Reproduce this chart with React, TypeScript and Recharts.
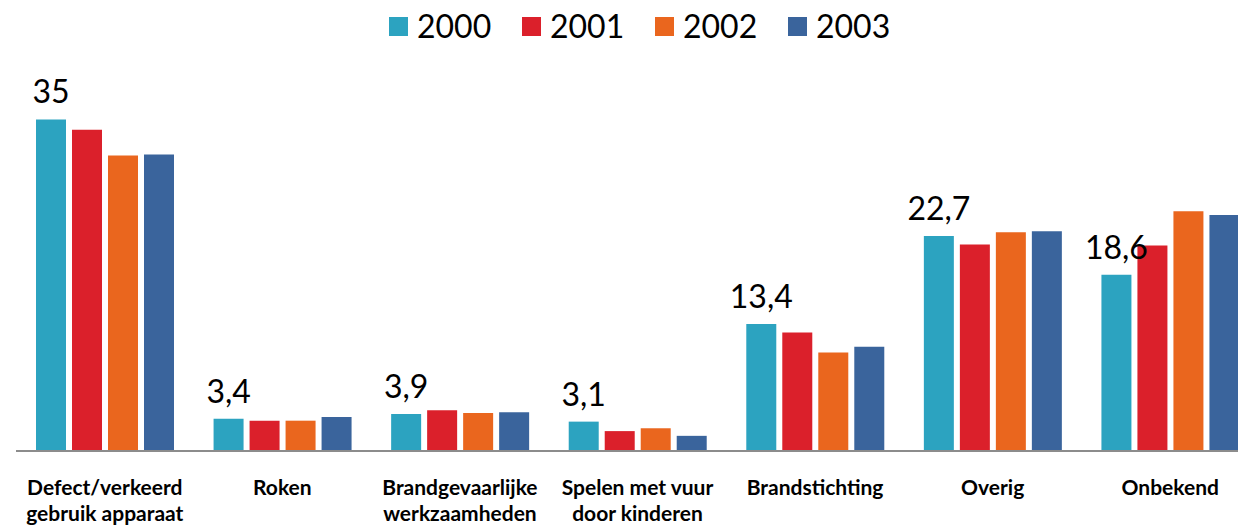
import React from 'react'
import { BarChart, Bar, XAxis, YAxis, LabelList } from 'recharts'

const categories = [
  'Defect/verkeerd\ngebruik apparaat',
  'Roken',
  'Brandgevaarlijke\nwerkzaamheden',
  'Spelen met vuur\ndoor kinderen',
  'Brandstichting',
  'Overig',
  'Onbekend',
]
const y2000 = [35, 3.4, 3.9, 3.1, 13.4, 22.7, 18.6]
const y2001 = [33.9, 3.2, 4.3, 2.1, 12.5, 21.8, 21.7]
const y2002 = [31.2, 3.2, 4.0, 2.4, 10.4, 23.1, 25.3]
const y2003 = [31.3, 3.6, 4.1, 1.6, 11.0, 23.2, 24.9]

const series = [
  { key: 'y2000', name: '2000', color: '#2ca3c0' },
  { key: 'y2001', name: '2001', color: '#db202b' },
  { key: 'y2002', name: '2002', color: '#ea661e' },
  { key: 'y2003', name: '2003', color: '#3a649c' },
]

const data = categories.map((c, i) => ({
  name: c,
  y2000: y2000[i],
  y2001: y2001[i],
  y2002: y2002[i],
  y2003: y2003[i],
}))

const FONT = 'Lato, "DejaVu Sans", sans-serif'

const CategoryTick = (props: any) => {
  const { x, y, payload } = props
  const lines = String(payload.value).split('\n')
  return (
    <text
      x={x}
      y={y}
      textAnchor="middle"
      fontFamily={FONT}
      fontWeight={700}
      fontSize={21}
      fill="#000"
    >
      {lines.map((l, i) => (
        <tspan key={i} x={x} dy={i === 0 ? 36 : 26}>
          {l}
        </tspan>
      ))}
    </text>
  )
}

// legend drawn as plain html so it doesn't push the plot area down
const LegendRow = () => (
  <div
    style={{
      position: 'absolute',
      top: 10,
      left: 389,
      display: 'flex',
      fontFamily: FONT,
      fontSize: 32,
      lineHeight: '32px',
    }}
  >
    {series.map((s) => (
      <div key={s.key} style={{ display: 'flex', alignItems: 'center', width: 133 }}>
        <span style={{ width: 19, height: 19, background: s.color, marginRight: 9 }} />
        <span style={{ color: '#000' }}>{s.name}</span>
      </div>
    ))}
  </div>
)

export default function App() {
  return (
    <div style={{ position: 'absolute', left: 0, top: 0, width: 1238, height: 526, overflow: 'hidden', background: '#fff' }}>
      <BarChart
        width={1260}
        height={526}
        data={data}
        margin={{ top: 72, right: 1, left: 16, bottom: 0 }}
        barCategoryGap={21}
        barGap={6}
      >
        <XAxis
          dataKey="name"
          height={75}
          interval={0}
          tickLine={false}
          axisLine={{ stroke: '#8c8c8c', strokeWidth: 2 }}
          tick={<CategoryTick />}
        />
        <YAxis hide domain={[0, 40]} />
        {series.map((s) => (
          <Bar
            key={s.key}
            dataKey={s.key}
            name={s.name}
            fill={s.color}
            barSize={30}
            isAnimationActive={false}
          >
            {s.key === 'y2000' && (
              <LabelList
                dataKey={s.key}
                position="top"
                offset={16}
                fill="#000"
                fontSize={32}
                fontFamily={FONT}
                formatter={(v: any) => String(v).replace('.', ',')}
              />
            )}
          </Bar>
        ))}
      </BarChart>
      <LegendRow />
    </div>
  )
}
